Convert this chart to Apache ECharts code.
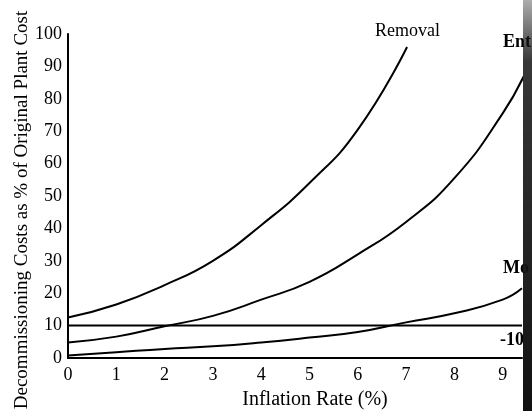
<!DOCTYPE html>
<html><head><meta charset="utf-8">
<script src="https://cdn.jsdelivr.net/npm/echarts@6/dist/echarts.min.js"></script>
<style>html,body{margin:0;padding:0;background:#fff}#c{width:532px;height:411px}</style>
</head><body><div id="c"></div>
<script>
const xTicks = [0,1,2,3,4,5,6,7,8,9];
const removalX = [0,1,2,3,4,5,6,7.02];
const removalY = [12.5,16.5,22.5,30,41,54,70.5,96];
const entombX = [0,1,2,3,4,5,6,7,8,9,9.5];
const entombY = [4.8,6.6,9.8,13,18,23.5,32,42,55.5,75.5,89];
const mothX = [0,1,2,3,4,5,6,7,8,9,9.4];
const mothY = [0.8,1.8,2.8,3.6,4.8,6.3,8,11,13.8,18,21.5];
const tenX = [0,9.4];
const tenY = [10,10];
const labels = ['Removal','Ent','Mo','-10'];
const yTitle = 'Decommissioning Costs as % of Original Plant Cost';
const xTitle = 'Inflation Rate (%)';

const pair = (xs, ys) => xs.map((x,i)=>[x, ys[i]]);
const F = '"Liberation Serif", "DejaVu Serif", serif';
const lineStyle = {color:'#000', width:2};
const mk = (name, xs, ys, smooth) => ({type:'line', name, data:pair(xs,ys), smooth, symbol:'none', lineStyle, silent:true});

const chart = echarts.init(document.getElementById('c'));
chart.setOption({
  animation:false,
  grid:{left:68, top:34, right:10, bottom:53},
  xAxis:{type:'value', min:0, max:9.4, interval:1,
    axisLine:{lineStyle:{color:'#000', width:2}}, axisTick:{show:false}, splitLine:{show:false},
    axisLabel:{color:'#000', fontFamily:F, fontSize:18, margin:8, showMaxLabel:false,
      formatter:v=> xTicks.includes(v)? String(v):''}},
  yAxis:{type:'value', min:0, max:100, interval:10,
    axisLine:{show:true, lineStyle:{color:'#000', width:2}}, axisTick:{show:false}, splitLine:{show:false},
    axisLabel:{color:'#000', fontFamily:F, fontSize:18, margin:6}},
  series:[
    mk('Removal', removalX, removalY, true),
    mk('Entombment', entombX, entombY, true),
    mk('Mothballing', mothX, mothY, true),
    mk('Ten', tenX, tenY, false)
  ],
  graphic:[
    {type:'text', x:22, y:210, rotation:Math.PI/2, style:{text:yTitle, font:'19px '+F, fill:'#000', align:'center', verticalAlign:'middle'}},
    {type:'text', x:315, y:400, style:{text:xTitle, font:'20px '+F, fill:'#000', align:'center', verticalAlign:'middle'}},
    {type:'text', x:375, y:31, style:{text:labels[0], font:'18px '+F, fill:'#000', align:'left', verticalAlign:'middle'}},
    {type:'text', x:503, y:42, style:{text:labels[1], font:'bold 18px '+F, fill:'#000', align:'left', verticalAlign:'middle'}},
    {type:'text', x:503, y:268, style:{text:labels[2], font:'bold 18px '+F, fill:'#000', align:'left', verticalAlign:'middle'}},
    {type:'text', x:500, y:340, style:{text:labels[3], font:'bold 18px '+F, fill:'#000', align:'left', verticalAlign:'middle'}},
    {type:'rect', shape:{x:523, y:0, width:9, height:411}, style:{fill:{type:'linear', x:0, y:0, x2:0, y2:1, colorStops:[{offset:0,color:'rgba(20,20,20,0.35)'},{offset:0.15,color:'rgba(20,20,20,0.85)'},{offset:1,color:'#111'}]}}}
  ]
});
</script></body></html>
